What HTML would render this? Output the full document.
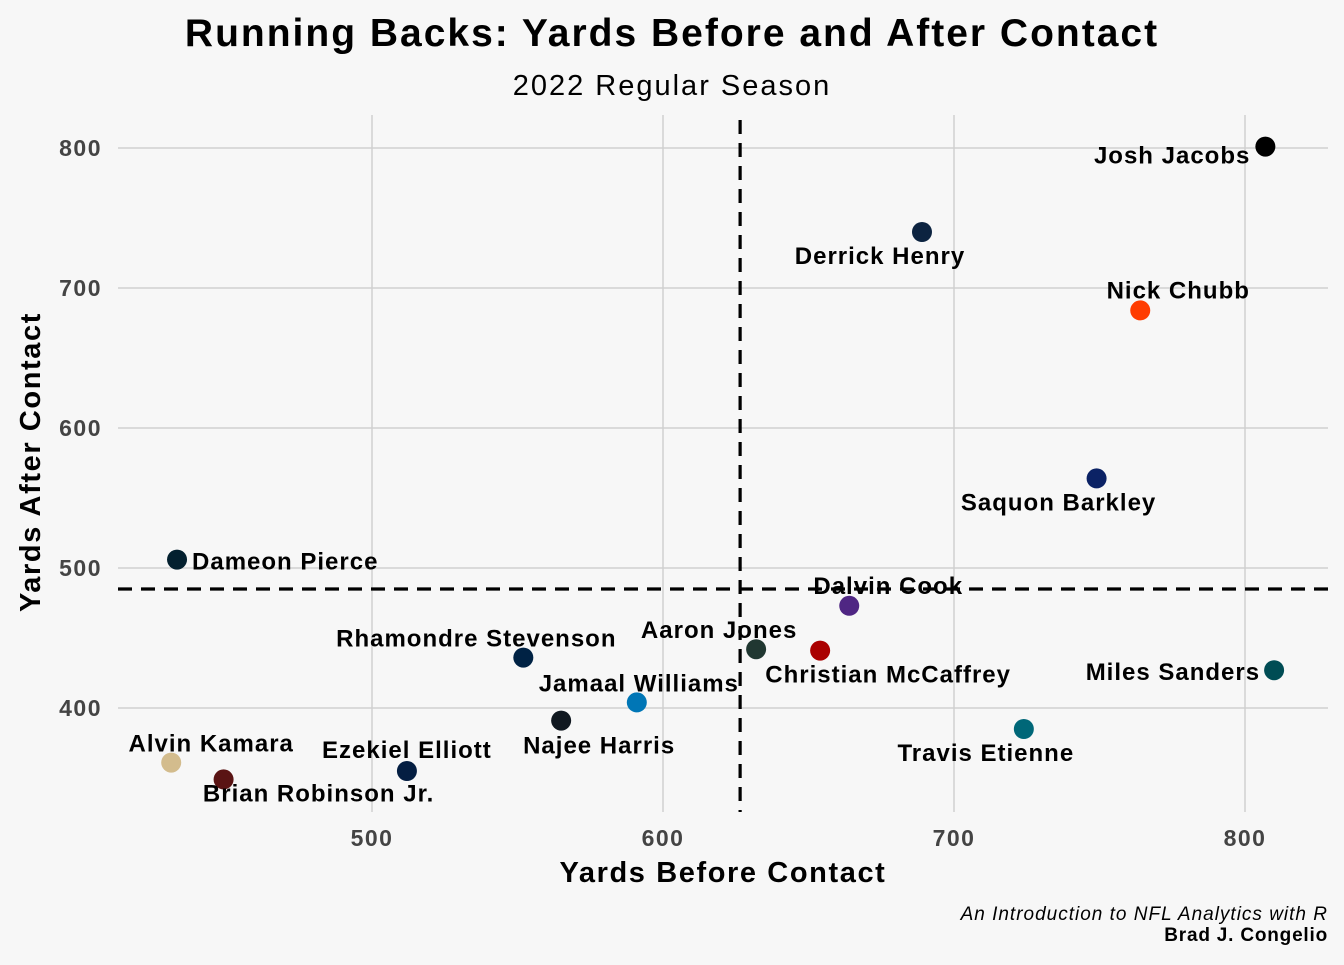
<!DOCTYPE html>
<html><head><meta charset="utf-8">
<style>
body{margin:0;background:#f7f7f7;font-family:"Liberation Sans",sans-serif;}
svg text{font-family:"Liberation Sans",sans-serif;}
</style></head>
<body>
<svg id="chart" width="1344" height="960" xmlns="http://www.w3.org/2000/svg">
<rect width="1344" height="960" fill="#f7f7f7"/>
<text x="672" y="46" text-anchor="middle" font-size="39" font-weight="bold" letter-spacing="2" fill="#000">Running Backs: Yards Before and After Contact</text>
<text x="672" y="95" text-anchor="middle" font-size="29" letter-spacing="2" fill="#000">2022 Regular Season</text>
<g id="grid"></g>
<g id="marks"></g>
<text x="723" y="882" text-anchor="middle" font-size="29" font-weight="bold" letter-spacing="1.6">Yards Before Contact</text>
<text transform="translate(40,462) rotate(-90)" text-anchor="middle" font-size="29" font-weight="bold" letter-spacing="1.6">Yards After Contact</text>
<text x="1328" y="920" text-anchor="end" font-size="19" font-style="italic" letter-spacing="1">An Introduction to NFL Analytics with R</text>
<text x="1328" y="941" text-anchor="end" font-size="19" font-weight="bold" letter-spacing="0.8">Brad J. Congelio</text>
</svg>
<script>
const players=["Josh Jacobs","Derrick Henry","Nick Chubb","Saquon Barkley","Dameon Pierce","Dalvin Cook","Aaron Jones","Christian McCaffrey","Miles Sanders","Rhamondre Stevenson","Jamaal Williams","Najee Harris","Travis Etienne","Alvin Kamara","Brian Robinson Jr.","Ezekiel Elliott"];
const ybc=[807,689,764,749,433,664,632,654,810,552,591,565,724,431,449,512];
const yac=[801,740,684,564,506,473,442,441,427,436,404,391,385,361,349,355];
const colors=["#000000","#0c2340","#ff3c00","#0b2265","#03202f","#4f2683","#203731","#aa0000","#004c54","#002244","#0076b6","#101820","#006778","#d3bc8d","#5a1414","#041e42"];
const xTicks=[500,600,700,800];
const yTicks=[400,500,600,700,800];
const meanX=626.5, meanY=485;
// label placement (styling offsets, pixels)
const lab=[[-15,9,"end"],[-42,24,"middle"],[38,-20,"middle"],[-38,24,"middle"],[15,2,"start"],[39,-20,"middle"],[-37,-19,"middle"],[68,24,"middle"],[-14,2,"end"],[-47,-19,"middle"],[2,-19,"middle"],[38,25,"middle"],[-38,24,"middle"],[40,-19,"middle"],[95,14,"middle"],[0,-21,"middle"]];
const X=v=>372+(v-500)*2.91, Y=v=>708-(v-400)*1.4;
const NS="http://www.w3.org/2000/svg";
function mk(t,a,p){const e=document.createElementNS(NS,t);for(const k in a)e.setAttribute(k,a[k]);p.appendChild(e);return e;}
const g=document.getElementById('grid'), m=document.getElementById('marks');
xTicks.forEach(t=>{const l=mk('line',{x1:X(t),x2:X(t),y1:115,y2:812,stroke:'#d0d0d0','stroke-width':1.5},g);

const tx=mk('text',{x:X(t),y:846,'text-anchor':'middle','font-size':23,'font-weight':'bold','letter-spacing':1.5,fill:'#444'},g);tx.textContent=t;
});
yTicks.forEach(t=>{const l=mk('line',{x1:118,x2:1328,y1:Y(t),y2:Y(t),stroke:'#d0d0d0','stroke-width':1.5},g);

const tx=mk('text',{x:102,y:Y(t)+8,'text-anchor':'end','font-size':23,'font-weight':'bold','letter-spacing':1.5,fill:'#444'},g);tx.textContent=t;
});
const vl=mk('line',{x1:X(meanX),x2:X(meanX),y1:120,y2:812,stroke:'#000','stroke-width':3.2,'stroke-dasharray':'14,9'},m);

const hl=mk('line',{x1:118,x2:1328,y1:Y(meanY),y2:Y(meanY),stroke:'#000','stroke-width':3.2,'stroke-dasharray':'14,9'},m);

players.forEach((p,i)=>{const cx=X(ybc[i]),cy=Y(yac[i]);
const c=mk('circle',{cx:cx,cy:cy,r:10,fill:colors[i]},m);


const t=mk('text',{x:cx+lab[i][0],y:cy+lab[i][1]+8,'text-anchor':lab[i][2],'font-size':24,'font-weight':'bold','letter-spacing':1,fill:'#000'},m);
t.textContent=p;

});
</script>
</body></html>
